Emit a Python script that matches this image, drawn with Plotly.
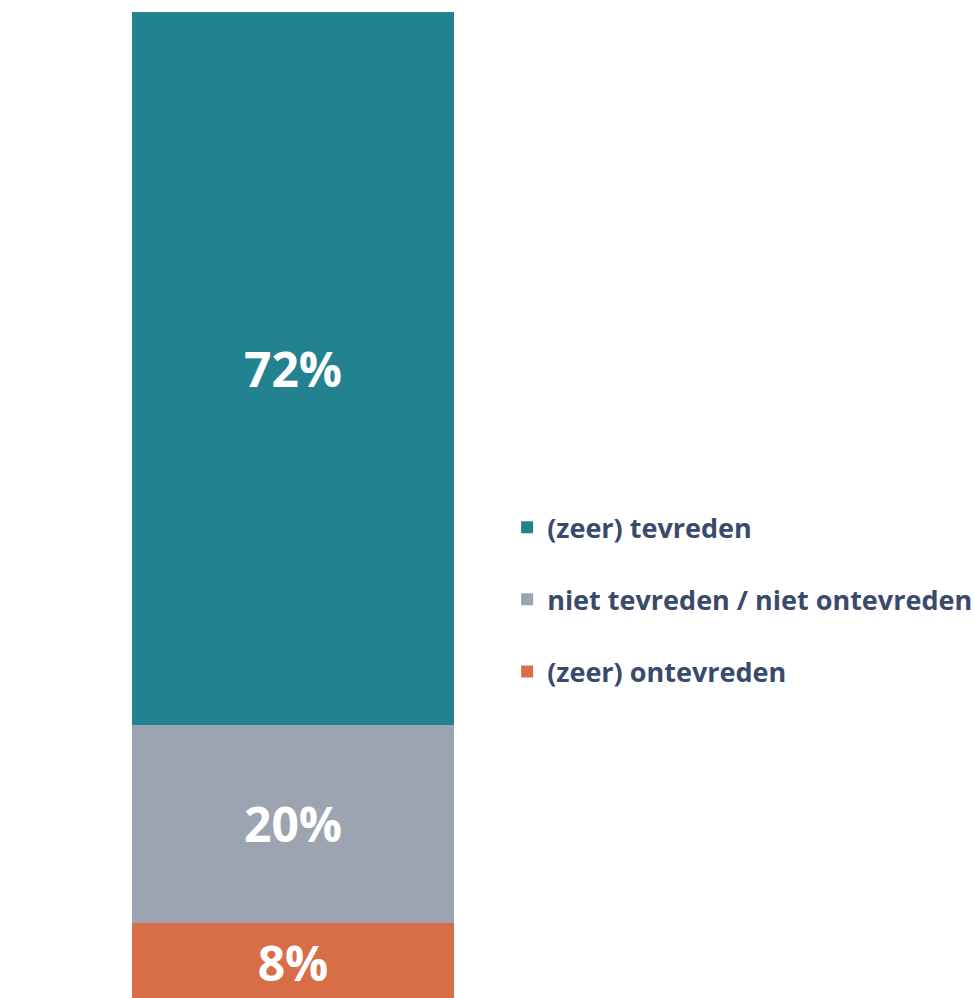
import plotly.graph_objects as go

# Satisfaction distribution (percent), stacked bottom to top
categories = ["(zeer) ontevreden", "niet tevreden / niet ontevreden", "(zeer) tevreden"]
values = [8, 20, 72]
colors = ["#D86E48", "#9CA3B1", "#23828F"]
legend_ranks = [3, 2, 1]

fig = go.Figure()
for name, val, col, rank in zip(categories, values, colors, legend_ranks):
    fig.add_trace(go.Bar(
        x=[""], y=[val], name=name, legendgroup=name, legendrank=rank,
        marker=dict(color=col, line=dict(width=0)),
        width=1,
        texttemplate="%{y}%", textposition="inside",
        insidetextanchor="middle", constraintext="none",
        textfont=dict(family="Open Sans", size=48, color="white", weight="bold"),
    ))

fig.update_layout(
    barmode="stack",
    width=974, height=998,
    margin=dict(l=132, r=520, t=12, b=0, autoexpand=False),
    paper_bgcolor="white", plot_bgcolor="white",
    xaxis=dict(range=[-0.5, 0.5], visible=False),
    yaxis=dict(range=[0.4, 100], visible=False),
    showlegend=True,
    legend=dict(
        x=1.165, y=0.404, xanchor="left", yanchor="middle",
        traceorder="grouped", tracegroupgap=34,
        font=dict(family="Open Sans", size=27, color="#3A4A6B", weight="bold"),
        itemwidth=30,
    ),
)

fig.write_html("out.html")
